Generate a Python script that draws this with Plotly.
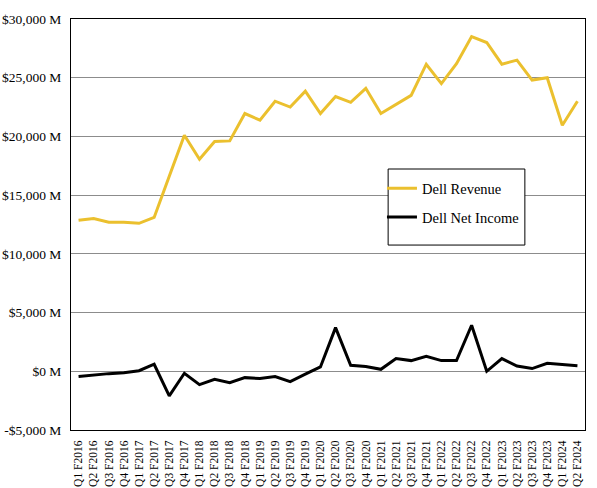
import plotly.graph_objects as go

quarters = [f"Q{q} F{y}" for y in range(2016, 2024) for q in range(1, 5)] + ["Q1 F2024", "Q2 F2024"]

# values in $ millions
revenue = [12860, 13000, 12700, 12700, 12600, 13100, 16600, 20100, 18060, 19570,
           19620, 21950, 21380, 23000, 22500, 23850, 21950, 23400, 22900, 24100,
           21950, 22700, 23500, 26150, 24500, 26200, 28500, 28000, 26150, 26500,
           24800, 25000, 20950, 23000]
net_income = [-450, -300, -200, -130, 50, 600, -2100, -170, -1140, -680,
              -965, -540, -620, -450, -880, -250, 370, 3720, 510, 400,
              170, 1080, 910, 1280, 910, 910, 3920, 0, 1080, 450,
              230, 680, 600, 480]

y_ticks = [-5000, 0, 5000, 10000, 15000, 20000, 25000, 30000]
y_labels = ["-$5,000 M", "$0 M", "$5,000 M", "$10,000 M", "$15,000 M",
            "$20,000 M", "$25,000 M", "$30,000 M"]

font_name = "Liberation Serif"

fig = go.Figure()
fig.add_trace(go.Scatter(x=quarters, y=revenue, mode="lines", name="Dell Revenue",
                         legendgroup="rev", line=dict(color="#EBC02E", width=3)))
fig.add_trace(go.Scatter(x=quarters, y=net_income, mode="lines", name="Dell Net Income",
                         legendgroup="ni", line=dict(color="#000000", width=3)))

fig.update_layout(
    width=597, height=488,
    margin=dict(l=71, r=12, t=19, b=58),
    paper_bgcolor="white", plot_bgcolor="white",
    font=dict(family=font_name, color="#000000"),
    showlegend=True,
    legend=dict(x=0.605, y=0.627, xanchor="left", yanchor="top",
                borderwidth=0, bgcolor="rgba(0,0,0,0)",
                font=dict(size=14.5, family=font_name), tracegroupgap=7,
                itemwidth=30),
)
# legend frame (white box with black border)
fig.add_shape(type="rect", xref="paper", yref="paper",
              x0=0.617, x1=0.883, y0=0.45, y1=0.635,
              line=dict(color="#000000", width=1), fillcolor="white", layer="above")
fig.update_xaxes(type="category", tickangle=-90, tickfont=dict(size=11.5),
                 automargin=False, showgrid=False, showline=True,
                 linecolor="#000000", linewidth=1, mirror=True,
                 ticks="outside", ticklen=5, tickcolor="rgba(0,0,0,0)",
                 range=[-0.5, len(quarters) - 0.5])
fig.update_yaxes(range=[-5000, 30000], tickvals=y_ticks, ticktext=y_labels,
                 tickfont=dict(size=13.5), automargin=False, showgrid=True,
                 gridcolor="#8C8C8C", gridwidth=1, showline=True,
                 linecolor="#000000", linewidth=1, mirror=True, zeroline=False,
                 ticks="outside", ticklen=6, tickcolor="rgba(0,0,0,0)")

# drop the default page margin so the figure sits at the window corner
fig.write_html("out.html", config={"displayModeBar": False},
               post_script="document.body.style.margin='0';")
